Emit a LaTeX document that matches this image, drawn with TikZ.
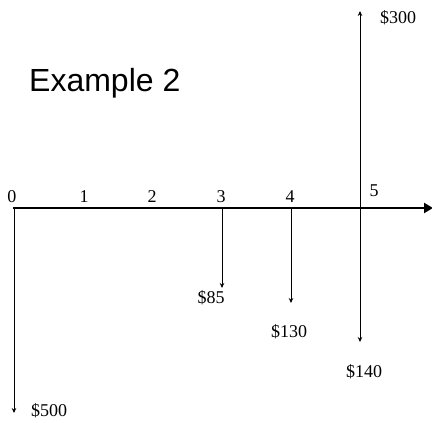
\documentclass[tikz,border=0pt]{standalone}
\usepackage{fontspec}
\setmainfont{Liberation Serif}
\setsansfont{Liberation Sans}
\usetikzlibrary{arrows.meta}
\begin{document}
\begin{tikzpicture}[x=1pt,y=-1pt,
  lbl/.style={font=\fontsize{18}{18}\selectfont, inner sep=0pt},
  flow/.style={line width=1pt,-{Stealth[length=5pt,width=4.5pt]}},
  axis/.style={line width=2.4pt,-{Triangle[length=9pt,width=10pt]}}]
\useasboundingbox (0,0) rectangle (432,423);
\node[font=\sffamily\fontsize{32}{32}\selectfont, anchor=base west, inner sep=0pt] (title) at (29,92) {Example 2};
% axis
\coordinate (o) at (14,208);
\coordinate (t3) at (222,208);
\coordinate (t4) at (291,208);
\coordinate (t5) at (360,208);
\coordinate (axend) at (433,208);
\draw[axis] (13,208) -- (axend);
% tick labels
\node[lbl] (l0) at (12,197) {0};
\node[lbl] (l1) at (84,197) {1};
\node[lbl] (l2) at (152,197) {2};
\node[lbl] (l3) at (221,197) {3};
\node[lbl] (l4) at (290,197) {4};
\node[lbl] (l5) at (374,191) {5};
% cash flow ends
\coordinate (e0) at (14,413);
\coordinate (e3) at (222,288);
\coordinate (e4) at (291,303);
\coordinate (e5d) at (360,342);
\coordinate (e5u) at (360,11);
\draw[flow] (o) -- (e0);
\draw[flow] (t3) -- (e3);
\draw[flow] (t4) -- (e4);
\draw[flow] (t5) -- (e5d);
\draw[flow] (t5) -- (e5u);
% amounts
\node[lbl] (a500) at (49,411) {\$500};
\node[lbl] (a85) at (211,298) {\$85};
\node[lbl] (a130) at (289,332) {\$130};
\node[lbl] (a140) at (364,372) {\$140};
\node[lbl] (a300) at (398,18) {\$300};
\end{tikzpicture}
\end{document}
